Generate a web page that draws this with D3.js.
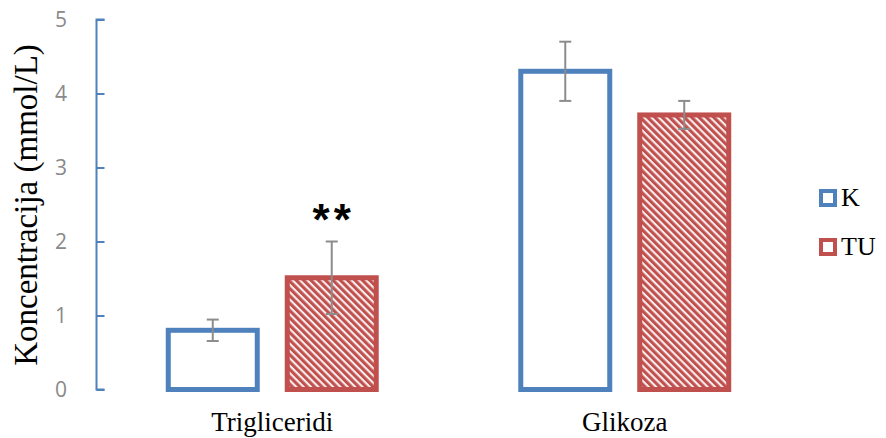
<!DOCTYPE html>
<html>
<head>
<meta charset="utf-8">
<script src="https://cdn.jsdelivr.net/npm/d3@7"></script>
<style>
  html, body { margin: 0; padding: 0; background: #fff; }
  svg { display: block; }
</style>
</head>
<body>
<svg id="chart" width="886" height="438"></svg>
<script>
// Categories and groups
const categories = ["Trigliceridi", "Glikoza"];
const groups = ["K", "TU"];

// Mean concentrations (mmol/L) per group, in category order
const valuesK  = [0.80, 4.30];
const valuesTU = [1.51, 3.71];

// Error bar half-widths (mmol/L)
const errorsK  = [0.145, 0.40];
const errorsTU = [0.49, 0.19];

// Significance marks shown above the TU bars
const significanceTU = ["**", ""];

// Y axis ticks
const yTicks = [0, 1, 2, 3, 4, 5];

const colors = { K: "#4f81bd", TU: "#c0504d" };
const serif = "'Liberation Serif', 'Times New Roman', serif";
const sans = "'Open Sans', 'Liberation Sans', sans-serif";

const svg = d3.select("#chart");

// Diagonal stripe fill for the TU bars
const defs = svg.append("defs");
const pat = defs.append("pattern")
  .attr("id", "stripes")
  .attr("patternUnits", "userSpaceOnUse")
  .attr("width", 5.2)
  .attr("height", 5.2)
  .attr("patternTransform", "rotate(-45)");
pat.append("rect").attr("width", 5.2).attr("height", 5.2).attr("fill", "#fbeeee");
pat.append("rect").attr("width", 3.1).attr("height", 5.2).attr("fill", colors.TU);

const y = d3.scaleLinear().domain([0, 5]).range([389.5, 19.5]);

const x0 = d3.scaleBand()
  .domain(categories)
  .range([96, 801])
  .paddingInner(0.41)
  .paddingOuter(0.205);

const x1 = d3.scaleBand()
  .domain(groups)
  .range([0, x0.bandwidth()])
  .paddingInner(0.252)
  .paddingOuter(0);

const rows = categories.map((c, i) => ({
  category: c,
  bars: [
    { group: "K", value: valuesK[i], err: errorsK[i], sig: "" },
    { group: "TU", value: valuesTU[i], err: errorsTU[i], sig: significanceTU[i] }
  ]
}));

// Y axis: line with inward ticks
const axisX = 96.5;
const yAxis = d3.axisRight(y).tickValues(yTicks).tickSize(8).tickFormat("");
const gAxis = svg.append("g").attr("transform", `translate(${axisX},0)`).call(yAxis);
gAxis.select(".domain")
  .attr("d", `M8,${y(0)}H0V${y(5)}H8`)
  .attr("stroke", colors.K).attr("stroke-width", 2).attr("fill", "none");
gAxis.selectAll(".tick line").attr("stroke", colors.K).attr("stroke-width", 2);

svg.append("g").selectAll("text")
  .data(yTicks)
  .join("text")
  .attr("x", 61)
  .attr("y", d => y(d))
  .attr("dy", "0.36em")
  .attr("text-anchor", "middle")
  .attr("font-family", sans)
  .attr("font-size", 21)
  .attr("fill", "#898989")
  .text(d => d);

// Y axis title
svg.append("text")
  .attr("transform", `translate(37,205) rotate(-90)`)
  .attr("text-anchor", "middle")
  .attr("font-family", serif)
  .attr("font-size", 33)
  .attr("fill", "#000")
  .text("Koncentracija (mmol/L)");

// Bars
const gCat = svg.append("g").selectAll("g")
  .data(rows)
  .join("g")
  .attr("transform", d => `translate(${x0(d.category)},0)`);

gCat.selectAll("rect.bar")
  .data(d => d.bars)
  .join("rect")
  .attr("class", "bar")
  .attr("x", d => x1(d.group))
  .attr("y", d => y(d.value))
  .attr("width", x1.bandwidth())
  .attr("height", d => y(0) - y(d.value))
  .attr("fill", d => d.group === "TU" ? "url(#stripes)" : "#ffffff")
  .attr("stroke", d => colors[d.group])
  .attr("stroke-width", 5);

// Error bars
const errG = gCat.selectAll("g.err")
  .data(d => d.bars)
  .join("g")
  .attr("class", "err")
  .attr("transform", d => `translate(${x1(d.group) + x1.bandwidth() / 2},0)`);

errG.append("line")
  .attr("x1", 0).attr("x2", 0)
  .attr("y1", d => y(d.value + d.err))
  .attr("y2", d => y(d.value - d.err))
  .attr("stroke", "#8c8c8c").attr("stroke-width", 2);
errG.append("line")
  .attr("x1", -6).attr("x2", 6)
  .attr("y1", d => y(d.value + d.err)).attr("y2", d => y(d.value + d.err))
  .attr("stroke", "#8c8c8c").attr("stroke-width", 2);
errG.append("line")
  .attr("x1", -6).attr("x2", 6)
  .attr("y1", d => y(d.value - d.err)).attr("y2", d => y(d.value - d.err))
  .attr("stroke", "#8c8c8c").attr("stroke-width", 2);

// Significance marks
errG.filter(d => d.sig)
  .append("text")
  .attr("x", 2)
  .attr("y", d => y(d.value + d.err) - 7)
  .attr("text-anchor", "middle")
  .attr("font-family", "'Liberation Sans', Arial, sans-serif")
  .attr("font-weight", "bold")
  .attr("font-size", 44)
  .attr("letter-spacing", 4)
  .attr("fill", "#000")
  .text(d => d.sig);

// Category labels
svg.append("g").selectAll("text")
  .data(categories)
  .join("text")
  .attr("x", d => x0(d) + x0.bandwidth() / 2)
  .attr("y", 431)
  .attr("text-anchor", "middle")
  .attr("font-family", serif)
  .attr("font-size", 27)
  .attr("fill", "#000")
  .text(d => d);

// Legend
const legend = svg.append("g").selectAll("g")
  .data(groups)
  .join("g")
  .attr("transform", (d, i) => `translate(819,${189 + i * 49})`);
legend.append("rect")
  .attr("x", 2).attr("y", 2)
  .attr("width", 14).attr("height", 14)
  .attr("fill", "#fff")
  .attr("stroke", d => colors[d])
  .attr("stroke-width", 4);
legend.append("text")
  .attr("x", 22)
  .attr("y", 17)
  .attr("font-family", serif)
  .attr("font-size", 26)
  .attr("fill", "#000")
  .text(d => d);
</script>
</body>
</html>
